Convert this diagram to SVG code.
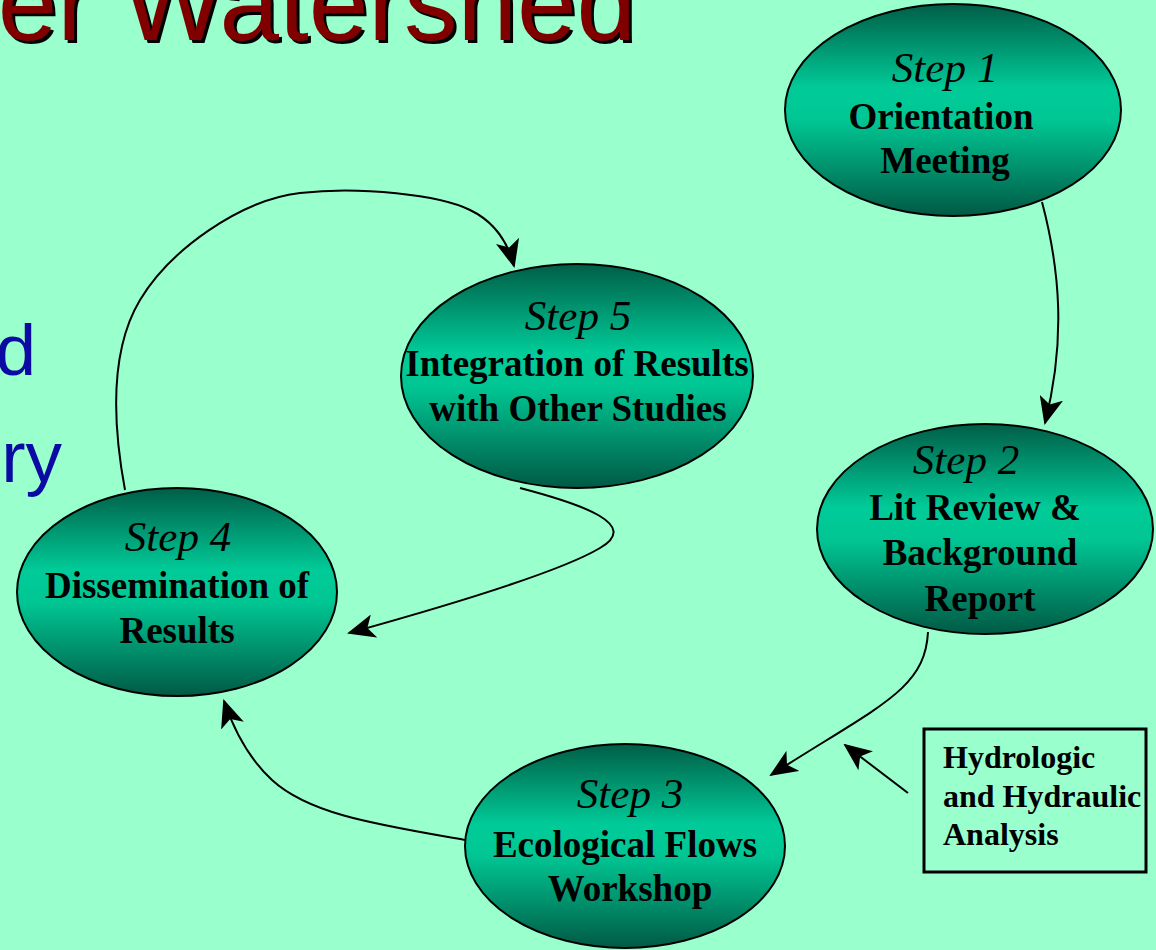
<svg xmlns="http://www.w3.org/2000/svg" width="1156" height="950" viewBox="0 0 1156 950">
<style>
.title{font-family:"Liberation Sans",Arial,sans-serif;font-size:107px;}
.side{font-family:"Liberation Sans",Arial,sans-serif;font-size:73px;fill:#0b0ba3;}
.node ellipse{fill:url(#g);stroke:#000;stroke-width:2;}
.st{font-family:"Liberation Serif","Times New Roman",serif;font-style:italic;font-size:43px;fill:#000;text-anchor:middle;}
.lb{font-family:"Liberation Serif","Times New Roman",serif;font-weight:bold;font-size:37px;fill:#000;text-anchor:middle;}
.bx{font-family:"Liberation Serif","Times New Roman",serif;font-weight:bold;font-size:32px;fill:#000;}
.conn path{fill:none;stroke:#000;stroke-width:2;marker-end:url(#ah);}
</style>
<defs>
<linearGradient id="g" x1="0" y1="0" x2="0" y2="1">
<stop offset="0" stop-color="#005e47"/>
<stop offset="0.4" stop-color="#00cc99"/>
<stop offset="0.55" stop-color="#00c693"/>
<stop offset="1" stop-color="#005a45"/>
</linearGradient>
<marker id="ah" viewBox="0 0 28 24" refX="26" refY="12" markerWidth="28" markerHeight="24" markerUnits="userSpaceOnUse" orient="auto">
<path d="M0,0 L28,12 L0,24 L7,12 z" fill="#000"/>
</marker>
</defs>
<rect width="1156" height="950" fill="#99ffcc"/>
<g id="title">
<text class="title" x="639" y="43" text-anchor="end" fill="#000">er Watershed</text>
<text class="title" x="636" y="40" text-anchor="end" fill="#800000">er Watershed</text>
</g>
<g id="side-text">
<text class="side" x="36" y="375" text-anchor="end">d</text>
<text class="side" x="62" y="482" text-anchor="end">ry</text>
</g>
<g id="step1" class="node">
<ellipse cx="953" cy="110" rx="168" ry="106"/>
<text class="st" x="945" y="82">Step 1</text>
<text class="lb" x="941" y="129">Orientation</text>
<text class="lb" x="945" y="173">Meeting</text>
</g>
<g id="step2" class="node">
<ellipse cx="985" cy="529" rx="168" ry="105"/>
<text class="st" x="966" y="474">Step 2</text>
<text class="lb" x="975" y="520">Lit Review &amp;</text>
<text class="lb" x="980" y="565">Background</text>
<text class="lb" x="980" y="611">Report</text>
</g>
<g id="step3" class="node">
<ellipse cx="625" cy="846" rx="160" ry="102"/>
<text class="st" x="630" y="808">Step 3</text>
<text class="lb" x="625" y="857">Ecological Flows</text>
<text class="lb" x="630" y="901">Workshop</text>
</g>
<g id="step4" class="node">
<ellipse cx="177" cy="592" rx="160" ry="104"/>
<text class="st" x="178" y="551">Step 4</text>
<text class="lb" x="177" y="598">Dissemination of</text>
<text class="lb" x="177" y="643">Results</text>
</g>
<g id="step5" class="node">
<ellipse cx="577" cy="376" rx="176" ry="112"/>
<text class="st" x="578" y="330">Step 5</text>
<text class="lb" x="577" y="376">Integration of Results</text>
<text class="lb" x="578" y="421">with Other Studies</text>
</g>
<g id="hh-box">
<rect x="924" y="729" width="222" height="143" fill="none" stroke="#000" stroke-width="3"/>
<text class="bx" x="943" y="768">Hydrologic</text>
<text class="bx" x="943" y="807">and Hydraulic</text>
<text class="bx" x="943" y="845">Analysis</text>
</g>
<g id="connectors" class="conn">
<path d="M1042,202 C1060,270 1066,340 1045,423"/>
<path d="M928,632 C925,690 880,705 771,775"/>
<path d="M908,793 L845,745"/>
<path d="M465,840 C380,825 310,815 272,780 C248,758 234,730 224,701"/>
<path d="M520,488 C585,505 640,525 600,548 C560,572 450,605 349,633"/>
<path d="M125,490 C112,420 110,350 140,300 C170,250 240,200 300,193 C360,186 440,195 470,210 C495,222 508,243 514,266"/>
</g>
</svg>
